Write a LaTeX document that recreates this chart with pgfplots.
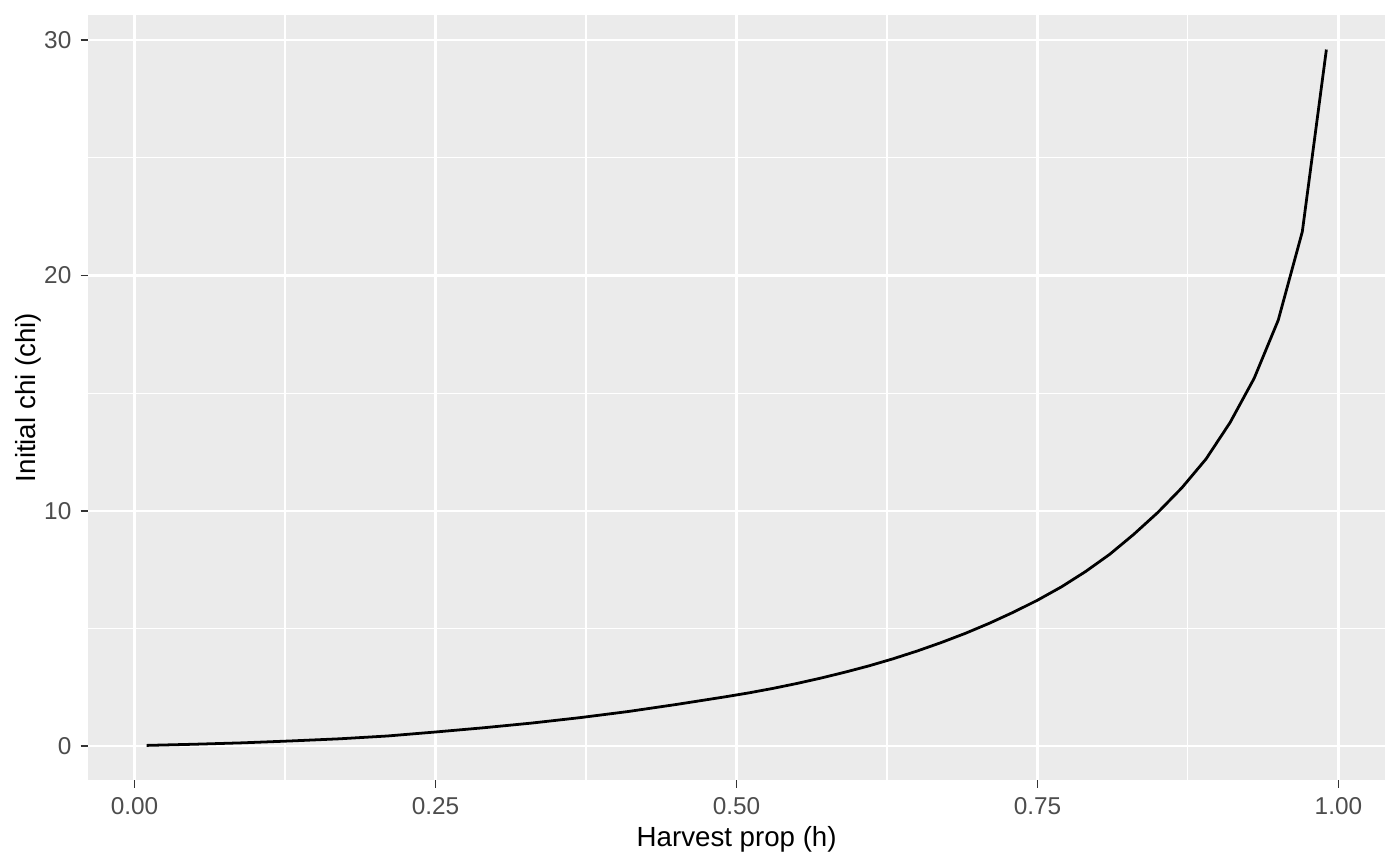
\documentclass[border=0pt]{standalone}
\usepackage{pgfplots}
\pgfplotsset{compat=1.18}
\usepackage{fontspec}
\setmainfont{Liberation Sans}
\definecolor{panelbg}{HTML}{EBEBEB}
\definecolor{ticklab}{HTML}{4D4D4D}
\definecolor{tickcol}{HTML}{333333}
\begin{document}
\begin{tikzpicture}
\begin{axis}[
  scale only axis,
  width=466.8bp, height=275.4bp,
  xmin=-0.0384, xmax=1.0387,
  ymin=-1.44, ymax=31.07,
  axis background/.style={fill=panelbg},
  axis line style={draw=none},
  tick align=outside,
  xtick pos=bottom, ytick pos=left,
  major tick length=2.75pt,
  minor tick length=0pt,
  every tick/.style={draw=tickcol, line width=0.6bp},
  xtick={0,0.25,0.5,0.75,1},
  xticklabels={0.00,0.25,0.50,0.75,1.00},
  minor xtick={0.125,0.375,0.625,0.875},
  ytick={0,10,20,30},
  yticklabels={0,10,20,30},
  minor ytick={5,15,25},
  grid=both,
  major grid style={draw=white, line width=0.8bp},
  minor grid style={draw=white, line width=0.4bp},
  tick label style={font=\fontsize{8.8}{10}\selectfont, text=ticklab},
  xticklabel style={inner sep=1pt, yshift=-2.2pt},
  yticklabel style={inner sep=1pt, xshift=-2.2pt},
  label style={font=\fontsize{11.5}{13.5}\selectfont, text=black},
  xlabel={Harvest prop (h)},
  ylabel={Initial chi (chi)},
  every axis x label/.style={at={(axis description cs:0.5,-0.077)}, anchor=center},
  every axis y label/.style={at={(axis description cs:-0.046,0.5)}, rotate=90, anchor=center},
  clip=false,
]
\addplot[black, line width=1bp, line join=round] table {
x y
0.01 0.03
0.05 0.08
0.09 0.14
0.13 0.22
0.17 0.31
0.21 0.43
0.25 0.60
0.29 0.78
0.33 0.98
0.37 1.21
0.41 1.47
0.45 1.77
0.49 2.09
0.51 2.26
0.53 2.45
0.55 2.66
0.57 2.89
0.59 3.14
0.61 3.41
0.63 3.71
0.65 4.04
0.67 4.40
0.69 4.79
0.71 5.22
0.73 5.69
0.75 6.20
0.77 6.77
0.79 7.42
0.81 8.15
0.83 9.00
0.85 9.93
0.87 10.98
0.89 12.20
0.91 13.75
0.93 15.63
0.95 18.10
0.97 21.86
0.99 29.60
};
\end{axis}
\path (current axis.south west) ++(-31.8bp,-30.6bp);
\path (current axis.north east) ++(5.4bp,5.4bp);
\end{tikzpicture}
\end{document}
